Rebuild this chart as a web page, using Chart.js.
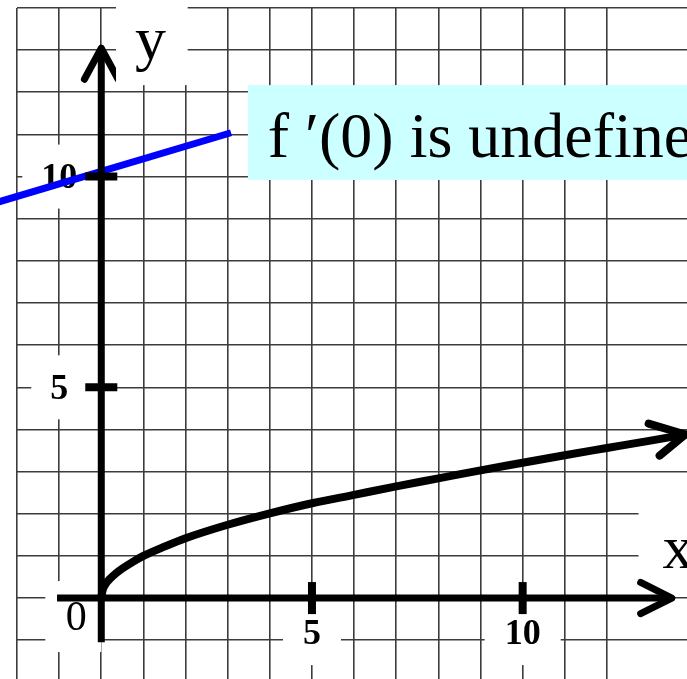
<!DOCTYPE html>
<html>
<head>
<meta charset="utf-8">
<script src="https://cdn.jsdelivr.net/npm/chart.js@4.4.0/dist/chart.umd.min.js"></script>
<style>
  html, body { margin: 0; padding: 0; background: #fff; overflow: hidden; }
  canvas { display: block; }
</style>
</head>
<body>
<canvas id="graph" width="687" height="679"></canvas>
<script>
// visible window, in grid units
const xMin = -2, xMax = 13.9;
const yMin = -1.92, yMax = 14;

// the curve
const curveX = [0, 0.03, 0.1, 0.2, 0.35, 0.5, 0.75, 1, 1.5, 2, 3, 4, 5, 6, 7, 8, 9, 10, 11, 12, 13, 13.86];
const curveY = [0, 0.18, 0.33, 0.45, 0.59, 0.7, 0.86, 1.0, 1.22, 1.42, 1.74, 2.01, 2.25, 2.45, 2.65, 2.84, 3.03, 3.21, 3.39, 3.56, 3.73, 3.88];
// arrow head at the end of the curve
const curveArrowX = [12.99, 13.86, 13.25];
const curveArrowY = [4.14, 3.88, 3.38];

// blue line through (0, 10)
const tangentX = [-2.6, 3.08];
const tangentY = [9.35, 11.04];

// axes
const xAxisX = [-1.05, 13.54];
const xAxisY = [0, 0];
const xArrowX = [12.8, 13.54, 12.8];
const xArrowY = [0.37, 0, -0.37];
const yAxisX = [0, 0];
const yAxisY = [-1.05, 13.05];
const yArrowX = [-0.4, 0, 0.4];
const yArrowY = [12.31, 13.05, 12.31];

// tick marks and their labels
const xTickValues = [5, 10];
const xTickLabels = ['5', '10'];
const yTickValues = [5, 10];
const yTickLabels = ['5', '10'];
const tickHalf = 0.38;

function pts(xs, ys) {
    return xs.map((v, i) => ({ x: v, y: ys[i] }));
}

function lineSet(data, color, width, extra) {
    return Object.assign({
        data: data,
        showLine: true,
        borderColor: color,
        backgroundColor: color,
        borderWidth: width,
        pointRadius: 0,
        pointHoverRadius: 0,
        borderCapStyle: 'round',
        borderJoinStyle: 'round',
        tension: 0
    }, extra || {});
}

const datasets = [];
datasets.push(lineSet(pts(xAxisX, xAxisY), '#000', 7, { borderCapStyle: 'butt' }));
datasets.push(lineSet(pts(xArrowX, xArrowY), '#000', 7));
datasets.push(lineSet(pts(yAxisX, yAxisY), '#000', 7, { borderCapStyle: 'butt' }));
datasets.push(lineSet(pts(yArrowX, yArrowY), '#000', 7));
xTickValues.forEach(v => {
    datasets.push(lineSet([{ x: v, y: -tickHalf }, { x: v, y: tickHalf }], '#000', 8, { borderCapStyle: 'butt' }));
});
yTickValues.forEach(v => {
    datasets.push(lineSet([{ x: -tickHalf, y: v }, { x: tickHalf, y: v }], '#000', 8, { borderCapStyle: 'butt' }));
});
datasets.push(lineSet(pts(curveX, curveY), '#000', 8, { cubicInterpolationMode: 'monotone' }));
datasets.push(lineSet(pts(curveArrowX, curveArrowY), '#000', 8));
datasets.push(lineSet(pts(tangentX, tangentY), '#0000ff', 7, { clip: false, borderCapStyle: 'butt' }));

const SERIF = '"Liberation Serif", "Times New Roman", serif';

function whiteBox(ctx, l, t, r, b) {
    ctx.fillStyle = '#fff';
    ctx.fillRect(l, t, r - l, b - t);
}

const textPlugin = {
    id: 'graphText',
    beforeDatasetsDraw(chart) {
        const ctx = chart.ctx;
        const sx = chart.scales.x, sy = chart.scales.y;
        const x0 = sx.getPixelForValue(0), y0 = sy.getPixelForValue(0);
        ctx.save();
        ctx.textAlign = 'center';
        ctx.textBaseline = 'middle';
        ctx.font = 'bold 36px ' + SERIF;

        // labels on the y axis
        yTickValues.forEach((v, i) => {
            const cy = sy.getPixelForValue(v);
            const cx = x0 - 42;
            const w = ctx.measureText(yTickLabels[i]).width + 38;
            whiteBox(ctx, cx - w / 2, cy - 32, cx + w / 2, cy + 32);
            ctx.fillStyle = '#000';
            ctx.fillText(yTickLabels[i], cx, cy + 2);
        });
        // labels on the x axis
        xTickValues.forEach((v, i) => {
            const cx = sx.getPixelForValue(v);
            const w = ctx.measureText(xTickLabels[i]).width + 40;
            whiteBox(ctx, cx - w / 2, y0 + 12, cx + w / 2, y0 + 67);
            ctx.fillStyle = '#000';
            ctx.fillText(xTickLabels[i], cx, y0 + 37);
        });
        // origin
        whiteBox(ctx, x0 - 56, y0 - 17, x0, y0 + 54);
        ctx.font = '42px ' + SERIF;
        ctx.fillStyle = '#000';
        ctx.fillText('0', x0 - 25, y0 + 21);

        // x label
        whiteBox(ctx, sx.getPixelForValue(12.75), sy.getPixelForValue(2.4), chart.width, sy.getPixelForValue(0.32));
        ctx.font = '62px ' + SERIF;
        ctx.textAlign = 'left';
        ctx.textBaseline = 'alphabetic';
        ctx.fillStyle = '#000';
        ctx.fillText('x', sx.getPixelForValue(13.32), sy.getPixelForValue(0.71));
        ctx.restore();
    },
    afterDatasetsDraw(chart) {
        const ctx = chart.ctx;
        const sx = chart.scales.x, sy = chart.scales.y;
        ctx.save();
        ctx.textAlign = 'left';
        ctx.textBaseline = 'alphabetic';
        ctx.font = '62px ' + SERIF;

        // y label, its box covers part of the arrow head
        whiteBox(ctx, sx.getPixelForValue(0.35), 0, sx.getPixelForValue(2.05), sy.getPixelForValue(12.17));
        ctx.fillStyle = '#000';
        ctx.fillText('y', sx.getPixelForValue(0.8), sy.getPixelForValue(12.78));

        // note box
        const l = sx.getPixelForValue(3.48), t = sy.getPixelForValue(12.17);
        const b = sy.getPixelForValue(9.92);
        ctx.fillStyle = '#ccffff';
        ctx.fillRect(l, t, chart.width - l, b - t);
        ctx.fillStyle = '#000';
        ctx.font = '64px ' + SERIF;
        ctx.fillText('f \u2032(0) is undefined', sx.getPixelForValue(3.95), sy.getPixelForValue(10.47));
        ctx.restore();
    }
};

function onlyWholeTicks(axis) {
    axis.ticks = axis.ticks.filter(t => Math.abs(t.value - Math.round(t.value)) < 1e-6);
}

const gridOpts = {
    color: '#3c3c3c',
    lineWidth: 1.6,
    drawTicks: false
};

new Chart(document.getElementById('graph'), {
    type: 'scatter',
    data: { datasets: datasets },
    options: {
        responsive: false,
        animation: false,
        events: [],
        layout: { padding: { left: 17, top: 8, right: 0, bottom: 0 } },
        plugins: {
            legend: { display: false },
            tooltip: { enabled: false }
        },
        scales: {
            x: {
                type: 'linear',
                min: xMin,
                max: xMax,
                grid: gridOpts,
                border: { display: false },
                ticks: { display: false, stepSize: 1 },
                afterBuildTicks: onlyWholeTicks
            },
            y: {
                type: 'linear',
                min: yMin,
                max: yMax,
                grid: gridOpts,
                border: { display: false },
                ticks: { display: false, stepSize: 1 },
                afterBuildTicks: onlyWholeTicks
            }
        }
    },
    plugins: [textPlugin]
});
</script>
</body>
</html>
